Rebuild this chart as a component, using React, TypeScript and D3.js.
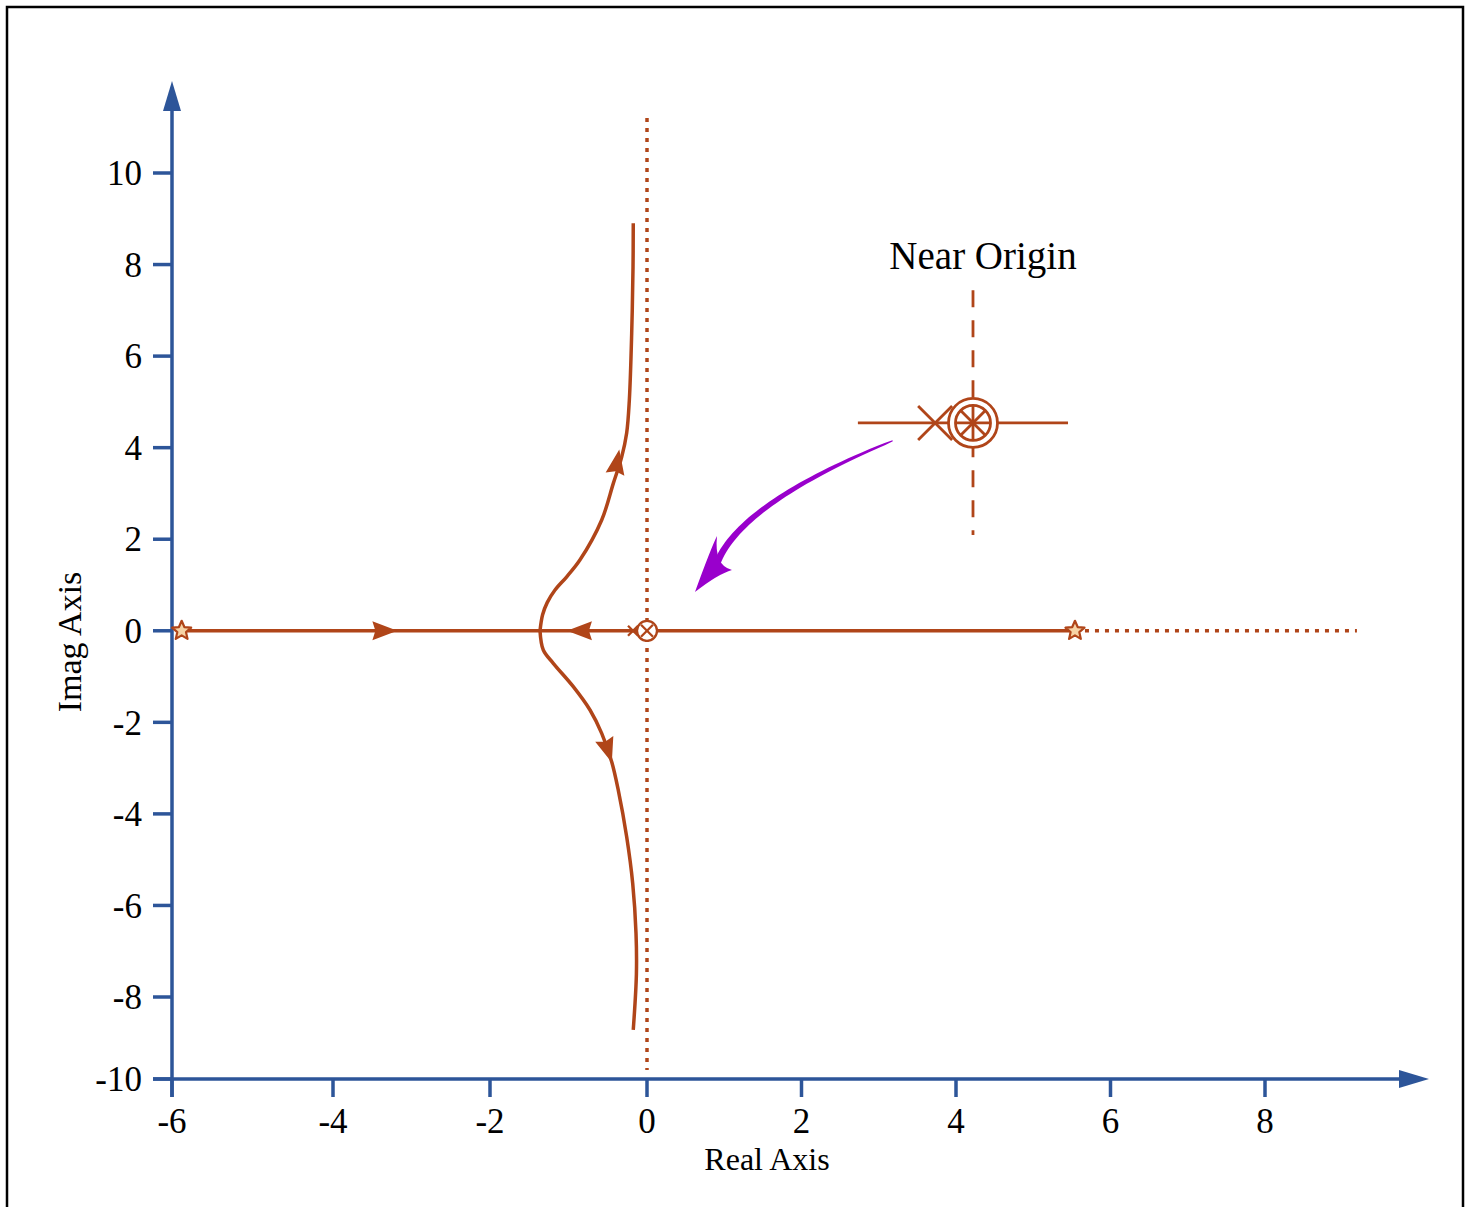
import React from "react";
import * as d3 from "d3";

// tick values on both axes
const xTicks = [-6, -4, -2, 0, 2, 4, 6, 8];
const yTicks = [-10, -8, -6, -4, -2, 0, 2, 4, 6, 8, 10];

const upperBranch: [number, number][] = [
  [-1.363, 0], [-1.33, 0.35], [-1.27, 0.62], [-1.172, 0.89], [-1.023, 1.18], [-0.853, 1.55],
  [-0.577, 2.42], [-0.429, 3.22], [-0.322, 3.8], [-0.259, 4.32], [-0.225, 5.04],
  [-0.195, 6.5], [-0.178, 7.95], [-0.175, 8.9],
];
const lowerBranch: [number, number][] = [
  [-1.363, 0], [-1.321, -0.42], [-1.194, -0.71], [-0.939, -1.22], [-0.726, -1.73],
  [-0.577, -2.24], [-0.45, -2.86], [-0.366, -3.48], [-0.259, -4.5], [-0.182, -5.52],
  [-0.14, -6.61], [-0.135, -7.5], [-0.175, -8.8],
];

// real-axis segment, its stars and the dotted continuation
const realSegment: [number, number] = [-5.88, 5.54];
const realDotted: [number, number] = [5.54, 9.19];
const imagDotted: [number, number] = [-9.78, 11.2];
const stars = [-5.88, 5.54];

// direction arrows: tip and a point behind it
const flowArrows: { tip: [number, number]; from: [number, number] }[] = [
  { tip: [-3.18, 0], from: [-3.6, 0] },
  { tip: [-1.02, 0], from: [-0.7, 0] },
  { tip: [-0.353, 3.96], from: [-0.416, 3.34] },
  { tip: [-0.448, -2.88], from: [-0.535, -2.41] },
];

// near-origin inset, in data units
const insetCenter: [number, number] = [4.22, 4.54];
const insetCross: [number, number] = [3.73, 4.54];
const insetHLine: [number, number] = [2.73, 5.45];
const insetVLine: [number, number] = [2.09, 7.44];
const insetTitle = "Near Origin";
const insetTitlePos: [number, number] = [4.35, 8.2];

// purple pointer (start, control, shaft end, tip, barbs)
const pointerStart: [number, number] = [3.18, 4.15];
const pointerCtrl: [number, number] = [1.165, 2.76];
const pointerEnd: [number, number] = [0.893, 1.415];
const pointerTip: [number, number] = [0.621, 0.848];
const pointerBarbA: [number, number] = [0.906, 2.07];
const pointerBarbB: [number, number] = [1.1, 1.33];

const RUST = "#b04519";
const BLUE = "#2d5599";
const PURPLE = "#9900cc";
const FONT = "'Liberation Serif', 'Times New Roman', serif";

const x = d3.scaleLinear().domain([-6, -4, 0, 8]).range([172, 333, 647, 1265]);
const y = d3.scaleLinear().domain([-10, -8, 10]).range([1079, 997, 173]);

function starPath(cx: number, cy: number, ro: number, ri: number) {
  const pts: [number, number][] = [];
  for (let i = 0; i < 10; i += 1) {
    const a = -Math.PI / 2 + (i * Math.PI) / 5;
    const r = i % 2 === 0 ? ro : ri;
    pts.push([cx + r * Math.cos(a), cy + r * Math.sin(a)]);
  }
  return "M" + pts.map((p) => p.join(",")).join("L") + "Z";
}

function arrowHead(tip: [number, number], from: [number, number], len: number, half: number) {
  const tx = x(tip[0]);
  const ty = y(tip[1]);
  const fx = x(from[0]);
  const fy = y(from[1]);
  const d = Math.hypot(tx - fx, ty - fy);
  const ux = (tx - fx) / d;
  const uy = (ty - fy) / d;
  const bx = tx - ux * len;
  const by = ty - uy * len;
  const nx = bx + ux * 3;
  const ny = by + uy * 3;
  return `M${tx},${ty}L${bx - uy * half},${by + ux * half}L${nx},${ny}L${bx + uy * half},${by - ux * half}Z`;
}

function pointerShape() {
  const p0 = [x(pointerStart[0]), y(pointerStart[1])];
  const p1 = [x(pointerCtrl[0]), y(pointerCtrl[1])];
  const p2 = [x(pointerEnd[0]), y(pointerEnd[1])];
  const left: [number, number][] = [];
  const right: [number, number][] = [];
  const n = 40;
  for (let i = 0; i <= n; i += 1) {
    const t = i / n;
    const px = (1 - t) * (1 - t) * p0[0] + 2 * (1 - t) * t * p1[0] + t * t * p2[0];
    const py = (1 - t) * (1 - t) * p0[1] + 2 * (1 - t) * t * p1[1] + t * t * p2[1];
    const dx = 2 * (1 - t) * (p1[0] - p0[0]) + 2 * t * (p2[0] - p1[0]);
    const dy = 2 * (1 - t) * (p1[1] - p0[1]) + 2 * t * (p2[1] - p1[1]);
    const l = Math.hypot(dx, dy);
    const w = 0.5 + 3 * Math.sqrt(t);
    left.push([px - (dy / l) * w, py + (dx / l) * w]);
    right.push([px + (dy / l) * w, py - (dx / l) * w]);
  }
  const pts = left.concat(right.reverse());
  return "M" + pts.map((p) => p.join(",")).join("L") + "Z";
}

function pointerHead() {
  const t = [x(pointerTip[0]), y(pointerTip[1])];
  const a = [x(pointerBarbA[0]), y(pointerBarbA[1])];
  const b = [x(pointerBarbB[0]), y(pointerBarbB[1])];
  const m = [x(pointerEnd[0]), y(pointerEnd[1])];
  return `M${t[0]},${t[1]}Q${a[0] - 6},${a[1] + 12} ${a[0]},${a[1]}Q${m[0] - 2},${m[1]} ${b[0]},${b[1]}Q${b[0] - 14},${b[1] + 4} ${t[0]},${t[1]}Z`;
}

export default function App() {
  const curve = d3
    .line<[number, number]>()
    .x((d) => x(d[0]))
    .y((d) => y(d[1]))
    .curve(d3.curveCatmullRom.alpha(0.5));

  const x0 = x(-6);
  const yBase = y(-10);
  const [icx, icy] = [x(insetCenter[0]), y(insetCenter[1])];
  const [kx, ky] = [x(insetCross[0]), y(insetCross[1])];
  const ox = x(0);
  const oy = y(0);
  const d45 = Math.SQRT1_2;

  return (
    <svg
      width={1471}
      height={1207}
      style={{ position: "absolute", left: 0, top: 0, background: "#fff" }}
      fontFamily={FONT}
    >
      <rect x={7} y={7} width={1456} height={1215} fill="#fff" stroke="#000" strokeWidth={2.5} />

      {/* axes */}
      <g stroke={BLUE} strokeWidth={3.5} fill="none">
        <line x1={x0} x2={x0} y1={yBase + 18} y2={110} />
        <line x1={153} x2={1400} y1={yBase} y2={yBase} />
        {yTicks.map((t) => (
          <line key={"yt" + t} x1={153} x2={x0} y1={y(t)} y2={y(t)} />
        ))}
        {xTicks.map((t) => (
          <line key={"xt" + t} x1={x(t)} x2={x(t)} y1={yBase} y2={yBase + 18} />
        ))}
      </g>
      <path d={`M${x0},81L${x0 + 9},111L${x0 - 9},111Z`} fill={BLUE} />
      <path d={`M1429,${yBase}L1399,${yBase - 9}L1399,${yBase + 9}Z`} fill={BLUE} />

      <g fontSize={35} fill="#000">
        {yTicks.map((t) => (
          <text key={"yl" + t} x={142} y={y(t)} dy="0.35em" textAnchor="end">
            {t}
          </text>
        ))}
        {xTicks.map((t) => (
          <text key={"xl" + t} x={x(t)} y={1133} textAnchor="middle">
            {t}
          </text>
        ))}
      </g>
      <text x={767} y={1170} fontSize={32} textAnchor="middle">
        Real Axis
      </text>
      <text transform="translate(81,642) rotate(-90)" fontSize={34} textAnchor="middle">
        Imag Axis
      </text>

      {/* dotted asymptote lines */}
      <g stroke={RUST} strokeWidth={3.5} strokeDasharray="4 6">
        <line x1={x(0)} x2={x(0)} y1={y(imagDotted[1])} y2={y(imagDotted[0])} />
        <line x1={x(realDotted[0]) + 10} x2={x(realDotted[1])} y1={oy} y2={oy} />
      </g>

      {/* locus */}
      <g stroke={RUST} strokeWidth={3.5} fill="none">
        <line x1={x(realSegment[0])} x2={x(realSegment[1])} y1={oy} y2={oy} />
        <path d={curve(upperBranch) ?? ""} />
        <path d={curve(lowerBranch) ?? ""} />
      </g>
      {flowArrows.map((a, i) => (
        <path key={"fa" + i} d={arrowHead(a.tip, a.from, 25, 9.5)} fill={RUST} />
      ))}
      {stars.map((s) => (
        <path
          key={"st" + s}
          d={starPath(x(s), oy, 10, 4.6)}
          fill="#f6d3a5"
          stroke={RUST}
          strokeWidth={2.2}
          strokeLinejoin="round"
        />
      ))}

      {/* origin symbol */}
      <g stroke={RUST} strokeWidth={2.3} fill="none">
        <circle cx={ox} cy={oy} r={10} fill="#fff" />
        <line x1={ox - 6} y1={oy - 6} x2={ox + 6} y2={oy + 6} />
        <line x1={ox - 6} y1={oy + 6} x2={ox + 6} y2={oy - 6} />
        <line x1={ox - 19} y1={oy - 5} x2={ox - 9} y2={oy + 5} />
        <line x1={ox - 19} y1={oy + 5} x2={ox - 9} y2={oy - 5} />
      </g>

      {/* near-origin inset */}
      <text x={x(insetTitlePos[0])} y={y(insetTitlePos[1])} dy="0.35em" fontSize={39} textAnchor="middle">
        {insetTitle}
      </text>
      <g stroke={RUST} strokeWidth={2.8} fill="none">
        <line x1={x(insetHLine[0])} x2={x(insetHLine[1])} y1={icy} y2={icy} />
        <line
          x1={icx}
          x2={icx}
          y1={y(insetVLine[1])}
          y2={y(insetVLine[0])}
          strokeDasharray="17 13"
        />
        <line x1={kx - 17} y1={ky - 17} x2={kx + 17} y2={ky + 17} />
        <line x1={kx - 17} y1={ky + 17} x2={kx + 17} y2={ky - 17} />
        <circle cx={icx} cy={icy} r={24.5} fill="#fff" />
        <circle cx={icx} cy={icy} r={17.5} />
        <line x1={icx} x2={icx} y1={icy - 17.5} y2={icy + 17.5} />
        <line x1={icx - 17.5} x2={icx + 17.5} y1={icy} y2={icy} />
        <line x1={icx - 17.5 * d45} y1={icy - 17.5 * d45} x2={icx + 17.5 * d45} y2={icy + 17.5 * d45} />
        <line x1={icx - 17.5 * d45} y1={icy + 17.5 * d45} x2={icx + 17.5 * d45} y2={icy - 17.5 * d45} />
      </g>

      {/* pointer from inset to origin */}
      <path d={pointerShape()} fill={PURPLE} />
      <path d={pointerHead()} fill={PURPLE} />
    </svg>
  );
}
